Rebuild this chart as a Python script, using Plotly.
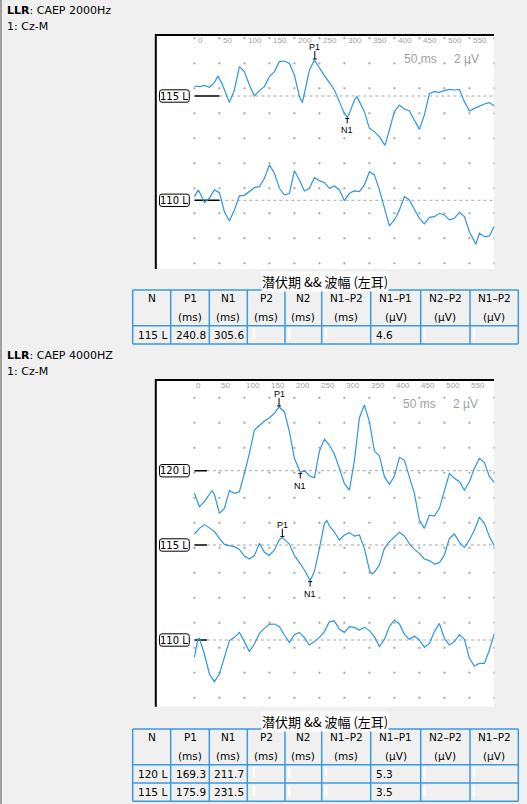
import plotly.graph_objects as go

# ---------------- data ----------------
tick_ms = [0, 50, 100, 150, 200, 250, 300, 350, 400, 450, 500, 550]
grid_ms = [0, 50, 100, 150, 200, 250, 300, 350, 400, 450, 500, 550, 600]

# CAEP 2000Hz, 115 L
a115_ms = [0, 10, 20, 30, 40, 47, 55, 60, 70, 80, 90, 100, 110, 120, 130, 140, 150, 160, 170, 180,
           190, 200, 210, 216, 220, 230, 240, 250, 260, 270, 280, 290, 300, 306, 310, 320, 325, 330,
           340, 350, 360, 370, 381, 390, 400, 410, 420, 430, 440, 450, 460, 470, 480, 490, 500, 510,
           520, 530, 540, 550, 560, 570, 580, 590, 600]
a115_uv = [0.8, 0.75, 0.85, 0.7, 1.07, 1.6, 1.01, 0.48, -0.53, 0.48, 2.35, 1.95, 0.88, 0.0, 0.43, 0.75,
           1.55, 1.95, 2.75, 2.8, 2.6, 1.68, -0.05, -0.53, 0.21, 2.08, 2.88, 2.2, 1.63, 1.07, 0.48, -0.45,
           -1.39, -1.71, -1.39, -0.32, -0.05, -0.45, -1.25, -2.59, -2.85, -3.25, -3.95, -2.72, -1.25,
           -0.72, -1.04, -1.2, -1.92, -2.67, -1.52, 0.21, 0.35, 0.29, 0.43, 0.53, 0.48, 0.53, -0.45,
           -1.2, -0.99, -0.8, -0.64, -0.53, -0.8]

# CAEP 2000Hz, 110 L
a110_ms = [0, 8, 20, 30, 40, 50, 60, 70, 80, 90, 100, 110, 120, 130, 140, 150, 160, 170, 180, 190,
           200, 210, 220, 230, 240, 250, 260, 270, 280, 290, 300, 310, 320, 330, 340, 350, 360, 370,
           380, 390, 400, 410, 420, 430, 440, 450, 460, 470, 480, 490, 500, 510, 520, 530, 540, 550,
           563, 570, 580, 590, 600]
a110_uv = [0.29, 0.83, -0.16, 0.16, 0.83, 0.61, -0.91, -1.65, -0.77, 0.35, 0.4, 0.69, 1.01, 1.09, 1.76,
           2.83, 2.16, 0.96, 0.43, 0.56, 2.37, 1.63, 0.75, 0.96, 1.81, 1.57, 1.41, 0.96, 1.15, 0.83,
           -0.03, 0.56, 0.75, 0.69, 1.23, 2.29, 2.03, 0.83, -0.51, -2.05, -1.57, -0.77, 0.29, 0.03,
           -0.72, -1.44, -1.89, -1.36, -1.31, -1.04, -1.17, -1.57, -1.44, -0.96, -1.31, -2.51, -3.52,
           -2.64, -2.91, -2.85, -2.05]

# CAEP 4000HZ, 120 L
b120_ms = [0, 10, 20, 35, 40, 50, 60, 70, 80, 90, 100, 110, 120, 130, 140, 150, 160, 169, 180, 190,
           200, 212, 220, 230, 240, 250, 260, 270, 280, 290, 300, 310, 320, 330, 340, 350, 360, 370,
           380, 390, 400, 410, 420, 430, 440, 450, 460, 470, 480, 490, 500, 510, 520, 530, 540, 550,
           560, 570, 580, 590, 600]
b120_uv = [-1.81, -2.88, -2.48, -1.6, -1.89, -3.41, -3.01, -1.6, -1.81, -1.68, -0.21, 1.39, 3.25, 3.65,
           3.97, 4.24, 4.59, 5.1, 4.72, 3.12, 0.99, -0.15, 0.03, -0.4, -0.56, 1.57, 2.53, 2.05, 1.31,
           0.19, -1.04, -1.55, 0.8, 4.24, 5.25, 3.92, 1.57, 1.2, -0.48, -1.09, -0.45, 1.07, 0.83,
           -0.51, -1.81, -3.95, -4.61, -3.55, -3.63, -3.01, -1.68, -0.21, -0.61, -0.88, -1.55, -0.88,
           0.19, 0.99, 0.67, -0.48, -0.93]

# CAEP 4000HZ, 115 L
b115_ms = [0, 10, 20, 30, 40, 50, 60, 70, 80, 90, 100, 110, 120, 130, 140, 150, 160, 170, 176, 190,
           200, 210, 220, 231.5, 240, 250, 260, 265, 270, 280, 290, 300, 310, 320, 330, 340, 350, 355,
           360, 370, 380, 390, 400, 410, 420, 430, 440, 450, 460, 470, 480, 490, 500, 510, 520, 530,
           540, 550, 560, 570, 580, 590, 600]
b115_uv = [0.88, 1.33, 1.63, 1.36, 1.09, 0.53, 0.05, -0.05, -0.13, -0.35, -0.88, -1.12, -0.85, 0.13,
           -0.59, -0.83, -0.4, 0.45, 0.59, 0.08, -0.83, -1.41, -2.0, -2.85, -2.13, -0.27, 1.73, 1.95,
           1.52, 1.04, 0.4, 0.8, 0.99, 0.72, 0.8, -0.27, -2.0, -2.32, -2.19, -1.6, -0.27, 0.27, 0.67,
           1.01, 0.72, 0.08, -0.35, -0.67, -1.12, -1.25, -1.52, -1.41, -0.8, 0.53, 0.88, 0.21, -0.19,
           0.4, 1.2, 2.21, 1.73, 0.67, -0.08]

# CAEP 4000HZ, 110 L
b110_ms = [0, 7, 10, 20, 30, 40, 50, 60, 70, 80, 90, 100, 110, 120, 130, 140, 150, 160, 170, 180, 190,
           200, 210, 220, 230, 240, 250, 260, 270, 280, 290, 300, 310, 320, 330, 340, 350, 360, 370,
           380, 390, 400, 410, 420, 430, 440, 450, 460, 470, 480, 490, 500, 510, 520, 530, 540, 550,
           560, 570, 580, 590, 600]
b110_uv = [-1.39, 0.08, 0.13, -1.12, -2.72, -3.33, -2.72, -1.47, -0.05, 0.21, 0.61, -0.13, -0.93, -0.32,
           0.53, 0.93, 1.25, 1.28, 1.07, 0.4, -0.19, 0.43, 0.61, 0.19, -0.4, -0.13, 0.21, 0.67, 1.47,
           1.52, 0.85, 0.61, 1.07, 1.01, 0.8, 1.01, 0.75, 0.27, -0.53, 0.05, 1.07, 1.6, 1.28, 0.45,
           0.05, 0.32, 0.0, -0.59, -0.27, 0.67, 1.33, 0.13, -0.4, -0.13, 0.43, 0.05, -1.47, -2.08,
           -1.87, -1.87, -0.8, 0.53]

# peak marks: (label, latency ms, amplitude µV)
a115_peaks = [("P1", 240.8, 2.88), ("N1", 305.6, -1.71)]
b120_peaks = [("P1", 169.3, 5.1), ("N1", 211.7, -0.15)]
b115_peaks = [("P1", 175.9, 0.59), ("N1", 231.5, -2.85)]

# tables
col_head = ["N", "P1", "N1", "P2", "N2", "N1\u2013P2", "N1\u2013P1", "N2\u2013P2", "N1\u2013P2"]
col_unit = ["", "(ms)", "(ms)", "(ms)", "(ms)", "(ms)", "(\u00b5V)", "(\u00b5V)", "(\u00b5V)"]
table1_rows = [["115 L", "240.8", "305.6", "", "", "", "4.6", "", ""]]
table2_rows = [["120 L", "169.3", "211.7", "", "", "", "5.3", "", ""],
               ["115 L", "175.9", "231.5", "", "", "", "3.5", "", ""]]
table_title = "潜伏期 && 波幅 (左耳)"

# ---------------- layout helpers ----------------
W, H = 527, 804
PXUV = 12.5      # 25 px grid = 2 µV
PXMS = 0.5       # 25 px grid = 50 ms
X0 = 194.4       # pixel of 0 ms
XL, XR = 155.0, 494.5
TRACE = '#2f96e4'
TBL = '#3a9ae0'
GRAYTXT = '#a0a0a0'
FONT = 'DejaVu Sans'


def fx(px):
    return px / W


def fy(py):
    return 1 - py / H


fig = go.Figure()
shapes = []
anns = []

# window left border
shapes.append(dict(type='rect', xref='paper', yref='paper', x0=0, x1=fx(2), y0=0, y1=1,
                   fillcolor='#a0a0a0', line_width=0, layer='below'))

panels = [
    dict(top=34.3, bottom=269.0, xa='x', ya='y', seg=50, row0=38.3, nrows=10,
         tick_y=40.7, tick_dx=2.0, scale_y=59.3, scale_x=(401.7, 451.7),
         head_y=(10.5, 26.0), head="<b>LLR</b>: CAEP 2000Hz",
         chans=[("115 L", 96.0, a115_ms, a115_uv, a115_peaks),
                ("110 L", 200.3, a110_ms, a110_uv, [])]),
    dict(top=379.3, bottom=706.7, xa='x2', ya='y2', seg=25, row0=397.7, nrows=13,
         tick_y=385.7, tick_dx=0.0, scale_y=404.0, scale_x=(400.7, 450.7),
         head_y=(355.0, 371.3), head="<b>LLR</b>: CAEP 4000HZ",
         chans=[("120 L", 470.7, b120_ms, b120_uv, b120_peaks),
                ("115 L", 545.0, b115_ms, b115_uv, b115_peaks),
                ("110 L", 640.0, b110_ms, b110_uv, [])]),
]


def rrect_path(x0, y0, x1, y1, r):
    return (f"M {fx(x0 + r)},{fy(y0)} L {fx(x1 - r)},{fy(y0)} Q {fx(x1)},{fy(y0)} {fx(x1)},{fy(y0 + r)} "
            f"L {fx(x1)},{fy(y1 - r)} Q {fx(x1)},{fy(y1)} {fx(x1 - r)},{fy(y1)} "
            f"L {fx(x0 + r)},{fy(y1)} Q {fx(x0)},{fy(y1)} {fx(x0)},{fy(y1 - r)} "
            f"L {fx(x0)},{fy(y0 + r)} Q {fx(x0)},{fy(y0)} {fx(x0 + r)},{fy(y0)} Z")


layout_axes = {}
for i, p in enumerate(panels):
    top, bot = p['top'], p['bottom']
    xa, ya = p['xa'], p['ya']
    xname = 'xaxis' if xa == 'x' else 'xaxis' + xa[1:]
    yname = 'yaxis' if ya == 'y' else 'yaxis' + ya[1:]
    layout_axes[xname] = dict(domain=[fx(XL), fx(XR)], range=[(XL - X0) / PXMS, (XR - X0) / PXMS],
                              anchor=ya, visible=False, fixedrange=True)
    layout_axes[yname] = dict(domain=[fy(bot), fy(top)], range=[0, (bot - top) / PXUV],
                              anchor=xa, visible=False, fixedrange=True)

    # header texts
    anns.append(dict(xref='paper', yref='paper', x=fx(5), y=fy(p['head_y'][0]), text=p['head'],
                     showarrow=False, xanchor='left', yanchor='middle',
                     font=dict(family=FONT, size=11, color='#000')))
    anns.append(dict(xref='paper', yref='paper', x=fx(5), y=fy(p['head_y'][1]), text="1: Cz-M",
                     showarrow=False, xanchor='left', yanchor='middle',
                     font=dict(family=FONT, size=11, color='#000')))

    # white panel + borders
    shapes.append(dict(type='rect', xref='paper', yref='paper', x0=fx(XL), x1=fx(XR - 0.5),
                       y0=fy(bot), y1=fy(top), fillcolor='white', line_width=0, layer='below'))
    shapes.append(dict(type='line', xref='paper', yref='paper', x0=fx(XL + 0.8), x1=fx(XL + 0.8),
                       y0=fy(bot), y1=fy(top), line=dict(color='#000', width=2)))
    shapes.append(dict(type='line', xref='paper', yref='paper', x0=fx(XL), x1=fx(XR - 0.5),
                       y0=fy(top + 0.8), y1=fy(top + 0.8), line=dict(color='#000', width=2)))

    # dot grid
    gx, gy = [], []
    for k in range(p['nrows']):
        yv = (bot - (p['row0'] + 25 * k)) / PXUV
        for m in grid_ms:
            gx.append(m)
            gy.append(yv)
    fig.add_trace(go.Scatter(x=gx, y=gy, mode='markers', xaxis=xa, yaxis=ya, hoverinfo='skip',
                             showlegend=False,
                             marker=dict(symbol='square', size=2, color='#a8a8a8', line_width=0)))

    # tick labels
    for t in tick_ms:
        anns.append(dict(xref=xa, yref='paper', x=t + p['tick_dx'] / PXMS, y=fy(p['tick_y']),
                         text=str(t), showarrow=False, xanchor='left', yanchor='middle',
                         font=dict(family='Liberation Sans Narrow, Liberation Sans', size=8, color=GRAYTXT)))
    # scale text
    anns.append(dict(xref='paper', yref='paper', x=fx(p['scale_x'][0]), y=fy(p['scale_y']),
                     text="50 ms", showarrow=False, xanchor='left', yanchor='middle',
                     font=dict(family='Liberation Sans', size=12, color=GRAYTXT)))
    anns.append(dict(xref='paper', yref='paper', x=fx(p['scale_x'][1]), y=fy(p['scale_y']),
                     text="2 \u00b5V", showarrow=False, xanchor='left', yanchor='middle',
                     font=dict(family='Liberation Sans', size=12, color=GRAYTXT)))

    for (lab, base_py, ms, uv, peaks) in p['chans']:
        off = (bot - base_py) / PXUV
        # dashed baseline
        fig.add_trace(go.Scatter(x=[p['seg'], grid_ms[-1]], y=[off, off], mode='lines', xaxis=xa, yaxis=ya,
                                 hoverinfo='skip', showlegend=False,
                                 line=dict(color='#a8a8a8', width=1, dash='3px,3px')))
        fig.add_trace(go.Scatter(x=[0, p['seg']], y=[off, off], mode='lines', xaxis=xa, yaxis=ya,
                                 hoverinfo='skip', showlegend=False,
                                 line=dict(color='#000', width=1.4)))
        # waveform
        fig.add_trace(go.Scatter(x=ms, y=[off + v for v in uv], mode='lines', xaxis=xa, yaxis=ya,
                                 hoverinfo='skip', showlegend=False,
                                 line=dict(color=TRACE, width=1.2)))
        # channel label box
        shapes.append(dict(type='path', xref='paper', yref='paper',
                           path=rrect_path(159.5, base_py - 6.2, 189.3, base_py + 6.2, 2.5),
                           fillcolor='#fcfcfc', line=dict(color='#000', width=1)))
        anns.append(dict(xref='paper', yref='paper', x=fx(174.4), y=fy(base_py), text=lab,
                         showarrow=False, xanchor='center', yanchor='middle',
                         font=dict(family=FONT, size=10, color='#000')))
        # peak marks
        for (pl, lat, amp) in peaks:
            yv = off + amp
            if pl.startswith('P'):
                shapes.append(dict(type='line', xref=xa, yref=ya, x0=lat, x1=lat,
                                   y0=yv + 1 / PXUV, y1=yv + 9 / PXUV, line=dict(color='#000', width=1)))
                shapes.append(dict(type='line', xref=xa, yref=ya, x0=lat - 4, x1=lat + 4,
                                   y0=yv + 1 / PXUV, y1=yv + 1 / PXUV, line=dict(color='#000', width=1)))
                ysh = 13
            else:
                shapes.append(dict(type='line', xref=xa, yref=ya, x0=lat, x1=lat,
                                   y0=yv - 1 / PXUV, y1=yv - 6 / PXUV, line=dict(color='#000', width=1)))
                shapes.append(dict(type='line', xref=xa, yref=ya, x0=lat - 4, x1=lat + 4,
                                   y0=yv - 1 / PXUV, y1=yv - 1 / PXUV, line=dict(color='#000', width=1)))
                ysh = -13
            anns.append(dict(xref=xa, yref=ya, x=lat, y=yv, yshift=ysh, text=pl, showarrow=False,
                             xanchor='center', yanchor='middle',
                             font=dict(family='Liberation Sans', size=9, color='#000')))

# ---------------- tables ----------------
cols = [132.7, 170.7, 209.3, 247.3, 285.0, 321.7, 370.7, 420.7, 470.0, 518.3]
bar_dx = [0, 0, 0, 5.4, 3.3, 3.3, 0, 2.6, 2.7]


def draw_table(top, title_y, rows):
    hdr_bot = top + 35.7
    rh = 18.3
    bottom = hdr_bot + rh * len(rows)
    anns.append(dict(xref='paper', yref='paper', x=fx(324.5), y=fy(title_y), text=table_title,
                     showarrow=False, xanchor='center', yanchor='middle', bgcolor='white', borderpad=0,
                     font=dict(family='Noto Sans CJK SC', size=13, color='#000')))
    ys = [top, hdr_bot] + [hdr_bot + rh * (i + 1) for i in range(len(rows))]
    for yy in ys:
        shapes.append(dict(type='line', xref='paper', yref='paper', x0=fx(cols[0]), x1=fx(cols[-1]),
                           y0=fy(yy), y1=fy(yy), line=dict(color=TBL, width=1.5)))
    for xx in cols:
        shapes.append(dict(type='line', xref='paper', yref='paper', x0=fx(xx), x1=fx(xx),
                           y0=fy(top), y1=fy(bottom), line=dict(color=TBL, width=1.5)))
    for c in range(len(col_head)):
        xc = (cols[c] + cols[c + 1]) / 2
        anns.append(dict(xref='paper', yref='paper', x=fx(xc), y=fy(top + 8.3), text=col_head[c],
                         showarrow=False, xanchor='center', yanchor='middle',
                         font=dict(family=FONT, size=10.5, color='#000')))
        if col_unit[c]:
            anns.append(dict(xref='paper', yref='paper', x=fx(xc), y=fy(top + 26.7), text=col_unit[c],
                             showarrow=False, xanchor='center', yanchor='middle',
                             font=dict(family=FONT, size=10.5, color='#000')))
    for r, row in enumerate(rows):
        rt = hdr_bot + rh * r
        for c, v in enumerate(row):
            if v:
                anns.append(dict(xref='paper', yref='paper', x=fx(cols[c] + 3), y=fy(rt + 9.3), text=v,
                                 showarrow=False, xanchor='left', yanchor='middle',
                                 font=dict(family=FONT, size=10.5, color='#000')))
            elif bar_dx[c]:
                shapes.append(dict(type='rect', xref='paper', yref='paper',
                                   x0=fx(cols[c] + bar_dx[c]), x1=fx(cols[c] + bar_dx[c] + 2.3),
                                   y0=fy(rt + 13.3), y1=fy(rt + 2.6), fillcolor='white', line_width=0))


draw_table(290.0, 281.3, table1_rows)
draw_table(729.0, 721.0, table2_rows)

fig.update_layout(width=W, height=H, margin=dict(l=0, r=0, t=0, b=0),
                  paper_bgcolor='#f0f0f0', plot_bgcolor='rgba(0,0,0,0)',
                  shapes=shapes, annotations=anns, showlegend=False, **layout_axes)

fig.write_html("out.html", config={'displayModeBar': False},
               post_script="document.body.style.margin='0';document.body.style.overflow='hidden';")
